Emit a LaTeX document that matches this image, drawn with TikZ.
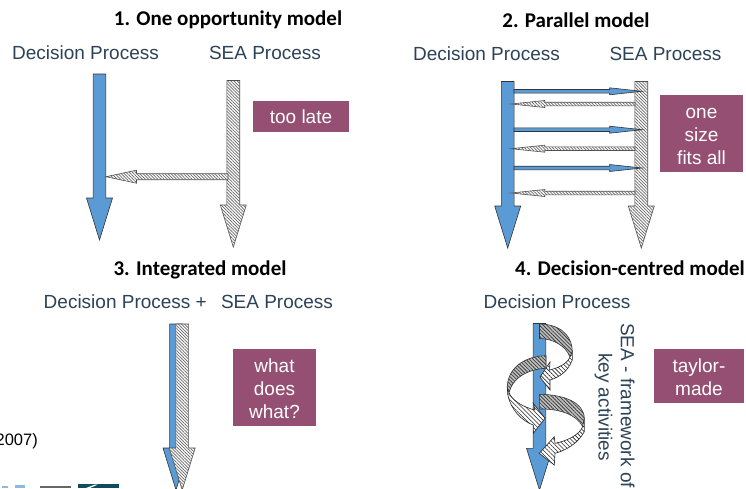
\documentclass[tikz,border=0pt]{standalone}
\usepackage{fontspec}
\usepackage{xcolor}
\usepackage{tikz}
\usetikzlibrary{patterns.meta}
\setmainfont{Liberation Sans}
\newfontfamily\titlefont{Carlito}

\definecolor{procblue}{HTML}{5B9BD5}
\definecolor{notepurple}{HTML}{954F72}
\definecolor{labelslate}{HTML}{2C4257}
\definecolor{logoteal}{HTML}{0F4C5C}

\tikzset{
    modeltitle/.style={font=\titlefont\bfseries\fontsize{21}{25}\selectfont, text=black, inner sep=0pt},
    proclabel/.style={font=\fontsize{19}{23}\selectfont, text=labelslate, inner sep=0pt},
    notebox/.style={fill=notepurple, text=white, font=\fontsize{19}{23}\selectfont, align=center, inner sep=0pt},
    bluearrow/.style={draw=black!80, line width=0.6pt, fill=procblue},
    seaarrow/.style={draw=black!70, line width=0.6pt, fill=white, postaction={pattern={Lines[angle=-45,distance=2.2pt,line width=0.7pt]}, pattern color=black!60}},
    backribbon/.style={draw=black!80, line width=0.6pt, fill=black!25, postaction={pattern={Lines[angle=-45,distance=2.6pt,line width=0.8pt]}, pattern color=black!75}},
    frontribbon/.style={draw=black!85, line width=0.6pt, fill=white, postaction={pattern={Lines[angle=-45,distance=3pt,line width=0.6pt]}, pattern color=black!85}}
}

% style, centre x, top y, shoulder y, tip y
\newcommand{\downblock}[5]{%
    \draw[#1] ({#2-6.4},#3) -- ({#2+6.4},#3) -- ({#2+6.4},#4) -- ({#2+13},#4) -- (#2,#5)
        -- ({#2-13},#4) -- ({#2-6.4},#4) -- cycle;}
% style, start x, head base x, tip x, y, half shaft, half head
\newcommand{\sideblock}[7]{%
    \draw[#1] (#2,{#5-#6}) -- (#3,{#5-#6}) -- (#3,{#5-#7}) -- (#4,#5) -- (#3,{#5+#7})
        -- (#3,{#5+#6}) -- (#2,{#5+#6}) -- cycle;}
% sets the first line of a note a little lower in its box
\newcommand{\notestrut}{\rule{0pt}{17pt}}

\begin{document}
\begin{tikzpicture}[x=1pt,y=-1pt]
    \useasboundingbox (0,0) rectangle (746,488);
    \clip (0,0) rectangle (746,488);

    % 1. One opportunity model
    \node[modeltitle] (title1) at (228,20) {1. One opportunity model};
    \node[proclabel] (dec1) at (85.5,52.5) {Decision Process};
    \node[proclabel] (sea1) at (265,52.5) {SEA Process};
    \downblock{bluearrow}{99.5}{74}{198}{240}
    \downblock{seaarrow}{233.3}{80.5}{205}{247}
    \sideblock{seaarrow}{228}{136.5}{106}{176.7}{3}{6.5}
    \node[notebox, minimum width=96pt, minimum height=31pt] (late1) at (301,116.5) {too late};

    % 2. Parallel model
    \node[modeltitle] (title2) at (576,20) {2. Parallel model};
    \node[proclabel] (dec2) at (486.5,53.5) {Decision Process};
    \node[proclabel] (sea2) at (665.5,53.5) {SEA Process};
    \downblock{bluearrow}{507.7}{81.5}{206}{248}
    \downblock{seaarrow}{641.3}{81.5}{206}{248}
    \sideblock{bluearrow}{514}{609.7}{642}{91.3}{1.8}{3.5} % to SEA
    \sideblock{seaarrow}{635}{544.7}{511}{104}{1.8}{3.5} % back
    \sideblock{bluearrow}{514}{609.7}{642}{129.7}{1.8}{3.5} % to SEA
    \sideblock{seaarrow}{635}{544.7}{511}{148.7}{1.8}{3.5} % back
    \sideblock{bluearrow}{514}{609.7}{642}{168}{1.8}{3.5} % to SEA
    \sideblock{seaarrow}{635}{544.7}{511}{193}{1.8}{3.5} % back
    \node[notebox, minimum width=83pt, minimum height=77pt] (fits2) at (701.5,133.5) {\notestrut one\\size\\fits all};

    % 3. Integrated model
    \node[modeltitle] (title3) at (200,270) {3. Integrated model};
    \node[proclabel] (dec3) at (125.3,302) {Decision Process +};
    \node[proclabel] (sea3) at (277,302) {SEA Process};
    \downblock{bluearrow}{176}{324}{448}{490}
    \downblock{seaarrow}{182.2}{324}{448}{490}
    \node[notebox, minimum width=83pt, minimum height=77pt] (what3) at (274.5,387.3) {\notestrut what\\does\\what?};

    % 4. Decision-centred model
    \node[modeltitle] (title4) at (630,268) {4. Decision-centred model};
    \node[proclabel] (dec4) at (557,301.5) {Decision Process};
    \downblock{bluearrow}{539.5}{323.5}{448.3}{490}
    \draw[backribbon] (539.5,324) .. controls (557,324) and (572,333) .. (572.3,351.7) -- (570,357)
        .. controls (566,346) and (553,338.5) .. (539.5,338.5) -- cycle; % upper right, back
    \draw[frontribbon] (572.3,351.7) -- (572.3,360) .. controls (568,371) and (560,377) .. (550,380)
        -- (550,390) -- (540,377) -- (550,362) -- (549.5,370) .. controls (558,368) and (567,364) .. (570,357) -- cycle; % upper right, front
    \draw[backribbon] (546,355.7) .. controls (525,356) and (507,368) .. (507.3,388) -- (509,393)
        .. controls (512,378) and (528,369) .. (546,368.3) -- cycle; % left, back
    \draw[frontribbon] (507.3,388) -- (507.8,395) .. controls (511,410) and (522,421) .. (533.3,425)
        -- (533.3,433.3) -- (545,418.3) -- (533.3,403.3) -- (535,410) .. controls (523,407) and (513,401) .. (509,393) -- cycle; % left, front
    \draw[backribbon] (539.3,394.3) .. controls (565,394.5) and (584,403) .. (584.3,418.3) -- (582.7,426.7)
        .. controls (577,415) and (560,408.5) .. (539.3,409) -- cycle; % lower right, back
    \draw[frontribbon] (584.3,418.3) -- (584.3,431.7) .. controls (578,443) and (567,450) .. (555,453.3)
        -- (554.3,465) -- (539.3,453.3) -- (554.3,436.7) -- (555,443.3) .. controls (567,441) and (579,435) .. (582.7,426.7) -- cycle; % lower right, front
    \node[proclabel, rotate=-90] (sea4) at (627.7,405.5) {SEA - framework of};
    \node[proclabel, rotate=-90] (key4) at (603.5,407) {key activities};
    \node[notebox, minimum width=90pt, minimum height=53.7pt] (taylor4) at (699,375.8) {\notestrut taylor-\\made};

    % Cut-off source and logos
    \node[anchor=east, inner sep=0pt, font=\fontsize{16.5}{20}\selectfont] (year) at (38,441) {2007)};
    \fill[procblue!70] (2,485.5) rectangle (8,488);
    \fill[procblue!70] (15,485) rectangle (25,488);
    \fill[black!60] (40,485.5) rectangle (71,488);
    \fill[logoteal] (78,484) rectangle (119,488);
    \fill[white] (86,488) -- (95,484.5) -- (98,484.5) -- (90,488) -- cycle;
\end{tikzpicture}
\end{document}
